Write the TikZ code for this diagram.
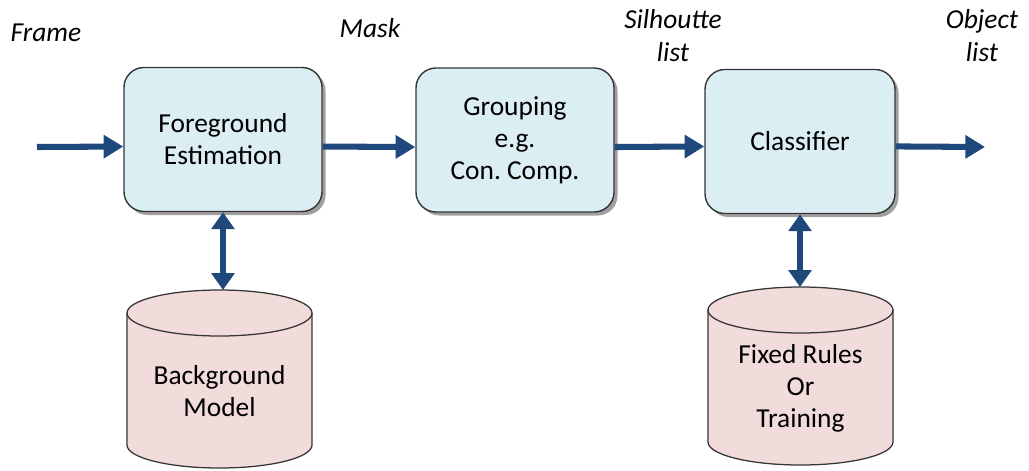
\documentclass[tikz,border=0pt]{standalone}
\usepackage{fontspec}
\setmainfont{Carlito}
\usepackage{tikz}
\usetikzlibrary{arrows.meta,shadows}
\usepackage{xcolor}
\definecolor{FlowBlue}{HTML}{1F497D}
\definecolor{StageFill}{HTML}{DBEEF4}
\definecolor{StoreFill}{HTML}{F2DCDB}
\definecolor{EdgeGray}{HTML}{353535}

\tikzset{
  stage/.style={draw=EdgeGray,line width=1pt,fill=StageFill,rounded corners=0.5cm,
    minimum width=4.95cm,minimum height=3.6cm,align=center,
    drop shadow={shadow xshift=2.5pt,shadow yshift=-2.5pt,opacity=0.75}},
  flow/.style={-{Triangle[length=14pt,width=16pt]},line width=4.3pt,FlowBlue},
  link/.style={{Triangle[length=12pt,width=16pt]}-{Triangle[length=12pt,width=16pt]},line width=4.3pt,FlowBlue},
  store/.style={draw=EdgeGray,line width=0.9pt,fill=StoreFill},
  tag/.style={font=\fontsize{19.5}{23.5}\selectfont\itshape,align=center},
}

\begin{document}
\begin{tikzpicture}[x=0.025cm,y=0.025cm,font=\fontsize{19.5}{22.7}\selectfont]
  \useasboundingbox (0,0) rectangle (1029,470);
  % processing stages
  \node[stage] (fg) at (223,330.5) {Foreground\\Estimation};
  \node[stage] (grp) at (515,330) {Grouping\\e.g.\\Con.\ Comp.};
  \node[stage,minimum width=4.75cm] (cls) at (800,328.5) {Classifier};
  % stores below
  \path[store] (127,157) -- (127,25) arc (180:360:92.5 and 23) -- (312,157) arc (0:180:92.5 and 23) -- cycle;
  \draw[store,fill=none] (127,157) arc (180:360:92.5 and 23);
  \node[align=center] (bgm) at (219.5,79) {Background\\Model};
  \path[store] (708,160) -- (708,28) arc (180:360:92.5 and 23) -- (893,160) arc (0:180:92.5 and 23) -- cycle;
  \draw[store,fill=none] (708,160) arc (180:360:92.5 and 23);
  \node[align=center] (rules) at (800.5,82) {Fixed Rules\\Or\\Training};
  \coordinate (bgmtop) at (223,180);
  \coordinate (rulestop) at (800,183);
  % data flow
  \coordinate (in) at (37,323);
  \coordinate (out) at (985,323);
  \draw[flow] (in) -- ([yshift=-5pt]fg.west);
  \draw[flow] ([yshift=-5pt]fg.east) -- ([yshift=-5pt]grp.west);
  \draw[flow] ([yshift=-5pt]grp.east) -- ([yshift=-3.5pt]cls.west);
  \draw[flow] ([yshift=-3.5pt]cls.east) -- (out);
  \draw[link] (fg.south) -- (bgmtop);
  \draw[link] (cls.south) -- (rulestop);
  % labels
  \node[tag] (frame) at (46,437) {Frame};
  \node[tag] (mask) at (370,442) {Mask};
  \node[tag] (sil) at (673,434) {Silhoutte\\list};
  \node[tag] (obj) at (982,434) {Object\\list};
\end{tikzpicture}
\end{document}
